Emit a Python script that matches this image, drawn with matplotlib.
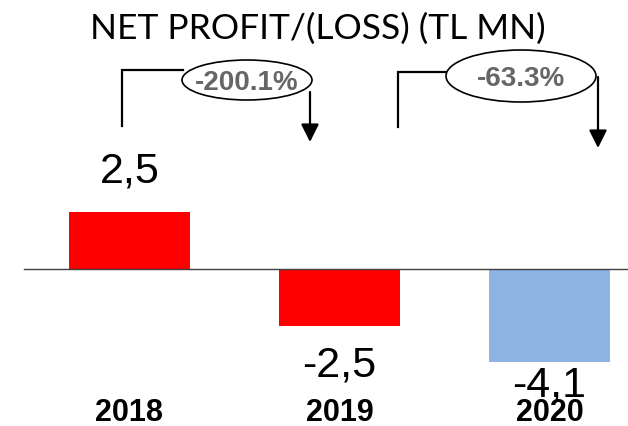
import matplotlib
matplotlib.use("Agg")
import matplotlib.pyplot as plt
from matplotlib.patches import Ellipse

# data
YEARS = ["2018", "2019", "2020"]
VALUES = [2.5, -2.5, -4.1]
VALUE_LABELS = ["2,5", "-2,5", "-4,1"]
BAR_COLORS = ["#ff0000", "#ff0000", "#8db3e2"]
CHANGE_LABELS = ["-200.1%", "-63.3%"]

W, H = 628, 426
fig = plt.figure(figsize=(W / 100, H / 100), dpi=100)

# bar axes: full figure, limits chosen so bar centres sit ~210px apart
PX_PER_UNIT = 22.8
ZERO_ROW = 269
ax = fig.add_axes([0, 0, 1, 1])
ax.set_xlim(-129.5 / 210, (W - 129.5) / 210)
ax.set_ylim(-(H - ZERO_ROW) / PX_PER_UNIT, ZERO_ROW / PX_PER_UNIT)
ax.axis("off")

xs = list(range(len(YEARS)))
ax.bar(xs, VALUES, width=121 / 210, color=BAR_COLORS, zorder=2)
ax.axhline(0, xmin=24 / W, xmax=1, color="#404040", lw=1, zorder=3)

label_font = dict(family=["Liberation Sans", "DejaVu Sans"], fontsize=31)
# positive labels above, negative below the bar end (offsets in points)
offsets = [15, -14, -2]
for x, v, lab, off in zip(xs, VALUES, VALUE_LABELS, offsets):
    ax.annotate(lab, (x, v), xytext=(0, off), textcoords="offset points",
                ha="center", va="bottom" if v > 0 else "top", **label_font)

for x, yr in zip(xs, YEARS):
    ax.text(x, -(421 - ZERO_ROW) / PX_PER_UNIT, yr, ha="center", va="baseline",
            fontsize=22, fontweight="bold",
            family=["Liberation Sans", "DejaVu Sans"])

# overlay in pixel coordinates for title and growth callouts
ov = fig.add_axes([0, 0, 1, 1], facecolor="none")
ov.set_xlim(0, W)
ov.set_ylim(H, 0)
ov.axis("off")

ov.text(318, 39, "NET PROFIT/(LOSS) (TL MN)", ha="center", va="baseline",
        fontsize=25.5, family=["Lato", "DejaVu Sans"])

callouts = [
    dict(bracket=[(122, 126), (122, 70), (183, 70)], ell=(247, 80, 130, 40),
         arrow=(310, 92, 142)),
    dict(bracket=[(398, 127), (398, 72), (446, 72)], ell=(521, 76, 150, 52),
         arrow=(598, 77, 148)),
]
for c, txt in zip(callouts, CHANGE_LABELS):
    bx, by = zip(*c["bracket"])
    ov.plot(bx, by, color="black", lw=1.6, solid_joinstyle="miter")
    cx, cy, ew, eh = c["ell"]
    ov.add_patch(Ellipse((cx, cy), ew, eh, facecolor="white",
                         edgecolor="black", lw=1.2, zorder=3))
    ov.text(cx, cy + 10, txt, ha="center", va="baseline", fontsize=20,
            fontweight="bold", color="#666666",
            family=["Liberation Sans", "DejaVu Sans"], zorder=4)
    axx, ay0, ay1 = c["arrow"]
    ov.annotate("", xy=(axx, ay1), xytext=(axx, ay0),
                arrowprops=dict(arrowstyle="-|>,head_length=0.4,head_width=0.2",
                                mutation_scale=27, lw=1.6, color="black",
                                shrinkA=0, shrinkB=0))

fig.savefig("out.png", dpi=100)
